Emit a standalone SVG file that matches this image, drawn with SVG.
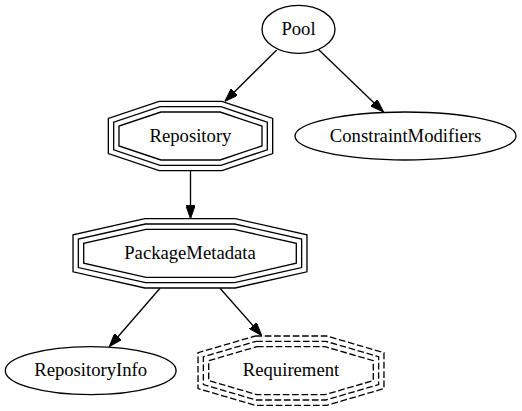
<svg xmlns="http://www.w3.org/2000/svg" width="522" height="411" viewBox="0 0 522 411">
<defs>
<marker id="arr" viewBox="0 0 13.33 9.33" refX="13.33" refY="4.67" markerWidth="13.33" markerHeight="9.33" markerUnits="userSpaceOnUse" orient="auto">
<path d="M0,0 L13.33,4.67 L0,9.33 z" fill="#000" stroke="#000" stroke-width="1"/>
</marker>
<style>
.shape{fill:none;stroke:#000;stroke-width:1.33}
.dash{stroke-dasharray:6.67,2.67}
.lbl{font-family:'Liberation Serif','DejaVu Serif',serif;font-size:18.67px;text-anchor:middle;fill:#000}
.edge{fill:none;stroke:#000;stroke-width:1.33;marker-end:url(#arr)}
</style>
</defs>
<rect width="522" height="411" fill="#fff"/>
<g id="edges">
<path class="edge" d="M276.7,50 L225,101.3"/>
<path class="edge" d="M318.5,49.5 L383.5,112"/>
<path class="edge" d="M190.5,170.7 L190.5,218.7"/>
<path class="edge" d="M160,288.3 L109.3,346.7"/>
<path class="edge" d="M220,288.3 L261.7,335.5"/>
</g>
<g id="Pool">
<ellipse class="shape" cx="298.5" cy="29.33" rx="36.5" ry="24"/>
<text class="lbl" font-family="Liberation Serif, serif" x="298.5" y="35">Pool</text>
</g>
<g id="ConstraintModifiers">
<ellipse class="shape" cx="405.5" cy="136" rx="110.5" ry="24"/>
<text class="lbl" font-family="Liberation Serif, serif" x="405.5" y="141.6">ConstraintModifiers</text>
</g>
<g id="Repository">
<polygon class="shape" points="160.9,112 220.1,112 262,126.1 262,145.9 220.1,160 160.9,160 119,145.9 119,126.1"/>
<polygon class="shape" points="160.03,106.67 220.97,106.67 267.33,122.23 267.33,149.77 220.97,165.33 160.03,165.33 113.67,149.77 113.67,122.23"/>
<polygon class="shape" points="159.17,101.33 221.83,101.33 272.67,118.4 272.67,153.6 221.83,170.67 159.17,170.67 108.33,153.6 108.33,118.4"/>
<text class="lbl" font-family="Liberation Serif, serif" x="190.5" y="141.6">Repository</text>
</g>
<g id="PackageMetadata">
<polygon class="shape" points="146,229.33 234,229.33 296.3,243.39 296.3,263.27 234,277.33 146,277.33 83.7,263.27 83.7,243.39"/>
<polygon class="shape" points="145.4,224 234.6,224 301.63,239.13 301.63,267.53 234.6,282.67 145.4,282.67 78.37,267.53 78.37,239.13"/>
<polygon class="shape" points="144.8,218.67 235.2,218.67 306.97,234.86 306.97,271.8 235.2,288 144.8,288 73.03,271.8 73.03,234.86"/>
<text class="lbl" font-family="Liberation Serif, serif" x="190" y="258.9">PackageMetadata</text>
</g>
<g id="RepositoryInfo">
<ellipse class="shape" cx="90.7" cy="370.67" rx="85.4" ry="24"/>
<text class="lbl" font-family="Liberation Serif, serif" x="90.7" y="376.3">RepositoryInfo</text>
</g>
<g id="Requirement">
<polygon class="shape dash" points="256.93,346.67 325.07,346.67 373.3,360.73 373.3,380.61 325.07,394.67 256.93,394.67 208.7,380.61 208.7,360.73"/>
<polygon class="shape dash" points="256.17,341.33 325.83,341.33 378.63,356.73 378.63,384.61 325.83,400 256.17,400 203.37,384.61 203.37,356.73"/>
<polygon class="shape dash" points="255.4,336 326.6,336 383.97,352.73 383.97,388.61 326.6,405.33 255.4,405.33 198.03,388.61 198.03,352.73"/>
<text class="lbl" font-family="Liberation Serif, serif" x="291" y="376.3">Requirement</text>
</g>
</svg>
